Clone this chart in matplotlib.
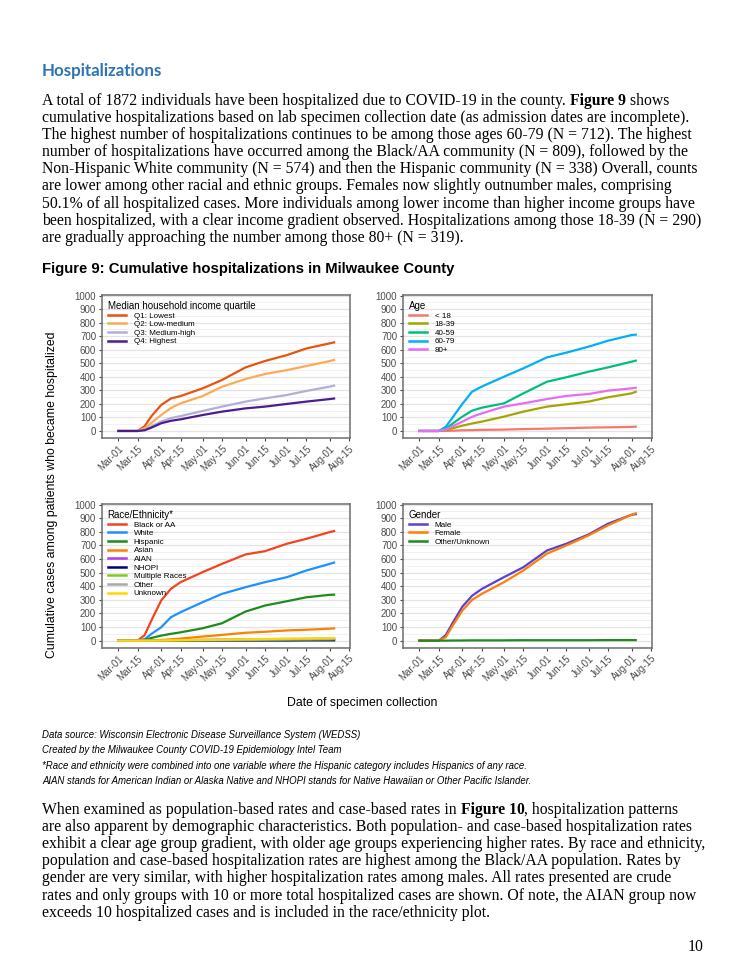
import matplotlib
matplotlib.use("Agg")
import matplotlib.pyplot as plt
import matplotlib.dates as mdates
from matplotlib.ticker import MultipleLocator
import pandas as pd

W, H = 750, 971

plt.rcParams["font.family"] = ["Liberation Sans", "DejaVu Sans"]

# ---------------------------------------------------------------------------
# Data (cumulative counts at these dates)
# ---------------------------------------------------------------------------

dates = pd.to_datetime([
    "2020-03-01", "2020-03-15", "2020-03-20", "2020-03-25", "2020-04-01",
    "2020-04-08", "2020-04-15", "2020-05-01", "2020-05-15", "2020-06-01",
    "2020-06-15", "2020-07-01", "2020-07-15", "2020-08-01", "2020-08-04",
])

income_labels = ["Q1: Lowest", "Q2: Low-medium", "Q3: Medium-high", "Q4: Highest"]
income_q1 = [0, 0, 35, 110, 192, 240, 258, 315, 377, 470, 517, 561, 610, 648, 655]
income_q2 = [0, 0, 20, 60, 118, 170, 204, 258, 327, 384, 421, 450, 480, 517, 525]
income_q3 = [0, 0, 10, 35, 70, 95, 110, 148, 180, 217, 241, 266, 296, 328, 335]
income_q4 = [0, 0, 5, 25, 57, 75, 86, 118, 143, 167, 180, 200, 217, 236, 240]

age_labels = ["< 18", "18-39", "40-59", "60-79", "80+"]
age_u18 = [0, 0, 0, 2, 5, 6, 8, 10, 14, 17, 20, 25, 27, 30, 32]
age_18_39 = [0, 0, 5, 20, 39, 55, 69, 106, 143, 180, 197, 217, 249, 278, 290]
age_40_59 = [0, 0, 15, 55, 106, 150, 172, 204, 278, 364, 397, 438, 470, 512, 520]
age_60_79 = [0, 0, 30, 100, 200, 290, 328, 401, 463, 544, 579, 623, 667, 709, 712]
age_80p = [0, 0, 10, 35, 69, 105, 130, 180, 204, 236, 259, 273, 298, 315, 319]

race_labels = ["Black or AA", "White", "Hispanic", "Asian", "AIAN", "NHOPI",
               "Multiple Races", "Other", "Unknown"]
race_black = [0, 0, 40, 150, 295, 381, 430, 504, 565, 634, 658, 713, 749, 799, 806]
race_white = [0, 0, 10, 50, 98, 172, 209, 283, 344, 393, 430, 467, 516, 565, 574]
race_hisp = [0, 0, 5, 20, 37, 50, 61, 91, 128, 214, 258, 290, 319, 337, 338]
race_asian = [0, 0, 1, 3, 5, 10, 15, 30, 42, 58, 65, 75, 80, 88, 90]
race_aian = [0, 0, 0, 0, 1, 2, 3, 5, 6, 8, 9, 10, 11, 12, 12]
race_nhopi = [0, 0, 0, 0, 0, 0, 0, 1, 1, 1, 1, 1, 2, 2, 2]
race_multi = [0, 0, 0, 0, 1, 1, 2, 3, 4, 5, 6, 7, 8, 9, 10]
race_other = [0, 0, 0, 1, 2, 3, 4, 6, 8, 10, 11, 12, 13, 14, 15]
race_unknown = [0, 0, 0, 0, 1, 2, 3, 5, 7, 10, 12, 14, 16, 18, 20]

gender_labels = ["Male", "Female", "Other/Unknown"]
gender_male = [0, 0, 40, 130, 250, 330, 380, 467, 540, 663, 713, 781, 860, 926, 930]
gender_female = [0, 0, 25, 110, 221, 300, 344, 430, 516, 640, 700, 774, 848, 926, 937]
gender_other = [0, 0, 0, 1, 1, 2, 2, 2, 3, 3, 3, 3, 4, 4, 4]

tick_dates = pd.to_datetime([
    "2020-03-01", "2020-03-15", "2020-04-01", "2020-04-15", "2020-05-01",
    "2020-05-15", "2020-06-01", "2020-06-15", "2020-07-01", "2020-07-15",
    "2020-08-01", "2020-08-15",
])

# ---------------------------------------------------------------------------
# Page text
# ---------------------------------------------------------------------------

para_top = [
    [("A total of 1872 individuals have been hospitalized due to COVID-19 in the county. ", False),
     ("Figure 9", True), (" shows", False)],
    [("cumulative hospitalizations based on lab specimen collection date (as admission dates are incomplete).", False)],
    [("The highest number of hospitalizations continues to be among those ages 60-79 (N = 712). The highest", False)],
    [("number of hospitalizations have occurred among the Black/AA community (N = 809), followed by the", False)],
    [("Non-Hispanic White community (N = 574) and then the Hispanic community (N = 338) Overall, counts", False)],
    [("are lower among other racial and ethnic groups. Females now slightly outnumber males, comprising", False)],
    [("50.1% of all hospitalized cases. More individuals among lower income than higher income groups have", False)],
    [("been hospitalized, with a clear income gradient observed. Hospitalizations among those 18-39 (N = 290)", False)],
    [("are gradually approaching the number among those 80+ (N = 319).", False)],
]

para_bottom = [
    [("When examined as population-based rates and case-based rates in ", False), ("Figure 10", True),
     (", hospitalization patterns", False)],
    [("are also apparent by demographic characteristics. Both population- and case-based hospitalization rates", False)],
    [("exhibit a clear age group gradient, with older age groups experiencing higher rates. By race and ethnicity,", False)],
    [("population and case-based hospitalization rates are highest among the Black/AA population. Rates by", False)],
    [("gender are very similar, with higher hospitalization rates among males. All rates presented are crude", False)],
    [("rates and only groups with 10 or more total hospitalized cases are shown. Of note, the AIAN group now", False)],
    [("exceeds 10 hospitalized cases and is included in the race/ethnicity plot.", False)],
]

footnotes = [
    "Data source: Wisconsin Electronic Disease Surveillance System (WEDSS)",
    "Created by the Milwaukee County COVID-19 Epidemiology Intel Team",
    "*Race and ethnicity were combined into one variable where the Hispanic category includes Hispanics of any race.",
    "AIAN stands for American Indian or Alaska Native and NHOPI stands for Native Hawaiian or Other Pacific Islander.",
]

fig = plt.figure(figsize=(W / 100, H / 100), dpi=100)
renderer = fig.canvas.get_renderer()

SERIF = "Liberation Serif"
SANS = "Liberation Sans"
BODY_SIZE = 11.35


def put_line(segments, x, y, size, family=SERIF):
    """Write one line of (text, bold) pieces, baseline at pixel y."""
    for txt, bold in segments:
        t = fig.text(x / W, 1 - y / H, txt, fontsize=size, family=family,
                     weight="bold" if bold else "normal", va="baseline", ha="left")
        x += t.get_window_extent(renderer).width


fig.text(42 / W, 1 - 76 / H, "Hospitalizations", fontsize=12.2, family="Lato",
         weight="bold", color="#2E74B5", va="baseline")

for i, line in enumerate(para_top):
    put_line(line, 42, 105 + i * 17.1, BODY_SIZE)

fig.text(42 / W, 1 - 273 / H, "Figure 9: Cumulative hospitalizations in Milwaukee County",
         fontsize=10.7, family=SANS, weight="bold", va="baseline")

for i, line in enumerate(para_bottom):
    put_line(line, 42, 814 + i * 17.1, BODY_SIZE)

for i, note in enumerate(footnotes):
    fig.text(42 / W, 1 - (738 + i * 15.4) / H, note, fontsize=6.9, family=SANS,
             style="italic", va="baseline")

fig.text(703 / W, 1 - 951 / H, "10", fontsize=BODY_SIZE, family=SERIF, ha="right", va="baseline")

# ---------------------------------------------------------------------------
# Panels
# ---------------------------------------------------------------------------


def make_panel(px_left, px_top, px_right, px_bottom):
    ax = fig.add_axes([px_left / W, 1 - px_bottom / H,
                       (px_right - px_left) / W, (px_bottom - px_top) / H])
    ax.set_xlim(pd.Timestamp("2020-02-18"), pd.Timestamp("2020-08-15 12:00"))
    ax.set_ylim(-52, 1005)
    ax.yaxis.set_major_locator(MultipleLocator(100))
    ax.yaxis.set_minor_locator(MultipleLocator(50))
    ax.grid(axis="y", which="major", color="#E3E3E3", lw=0.9)
    ax.grid(axis="y", which="minor", color="#EFEFEF", lw=0.6)
    ax.set_axisbelow(True)
    ax.set_xticks(tick_dates)
    ax.xaxis.set_major_formatter(mdates.DateFormatter("%b-%d"))
    ax.tick_params(axis="both", which="major", labelsize=7.0, labelcolor="#4D4D4D",
                   color="#444444", length=2.5, width=0.8, pad=1.5)
    ax.tick_params(axis="y", which="minor", length=0)
    for lab in ax.get_xticklabels():
        lab.set_rotation(45)
        lab.set_ha("right")
        lab.set_rotation_mode("anchor")
    for sp in ax.spines.values():
        sp.set_color("#6E6E6E")
        sp.set_linewidth(1.1)
    return ax


def finish_legend(ax, title):
    leg = ax.legend(title=title, loc="upper left", frameon=False, fontsize=5.8,
                    title_fontsize=7.0, handlelength=2.3, handletextpad=0.9,
                    labelspacing=0.12, borderaxespad=0.35, alignment="left")
    for h in leg.get_lines():
        h.set_linewidth(1.8)


LW = 1.6

ax1 = make_panel(101.7, 295, 350, 438)
for vals, lab, col in zip([income_q1, income_q2, income_q3, income_q4], income_labels,
                          ["#E6550D", "#FDAA55", "#B2ADDB", "#4A1E8C"]):
    ax1.plot(dates, vals, color=col, lw=LW, label=lab)
finish_legend(ax1, "Median household income quartile")

ax2 = make_panel(402.7, 295, 651.7, 438)
for vals, lab, col in zip([age_u18, age_18_39, age_40_59, age_60_79, age_80p], age_labels,
                          ["#F8766D", "#A3A500", "#00BF7D", "#00B0F6", "#E76BF3"]):
    ax2.plot(dates, vals, color=col, lw=LW, label=lab)
finish_legend(ax2, "Age")

ax3 = make_panel(101.7, 504, 350, 647.7)
race_series = [race_black, race_white, race_hisp, race_asian, race_aian, race_nhopi,
               race_multi, race_other, race_unknown]
race_colors = ["#F5431F", "#1E90FF", "#1E8B1E", "#FF7F00", "#B23AEE", "#000080",
               "#7CCD1F", "#A9A9A9", "#FFD700"]
for vals, lab, col in zip(race_series, race_labels, race_colors):
    ax3.plot(dates, vals, color=col, lw=LW, label=lab)
finish_legend(ax3, "Race/Ethnicity*")

ax4 = make_panel(402.7, 504, 651.7, 647.7)
for vals, lab, col in zip([gender_male, gender_female, gender_other], gender_labels,
                          ["#5A3FD9", "#FF7F00", "#1E8B1E"]):
    ax4.plot(dates, vals, color=col, lw=LW, label=lab)
finish_legend(ax4, "Gender")

fig.text(52 / W, 1 - 495 / H, "Cumulative cases among patients who became hospitalized",
         rotation=90, fontsize=8.8, family=SANS, ha="center", va="center")
fig.text(362 / W, 1 - 703 / H, "Date of specimen collection", fontsize=8.8, family=SANS,
         ha="center", va="center")

fig.savefig("out.png", dpi=100)
